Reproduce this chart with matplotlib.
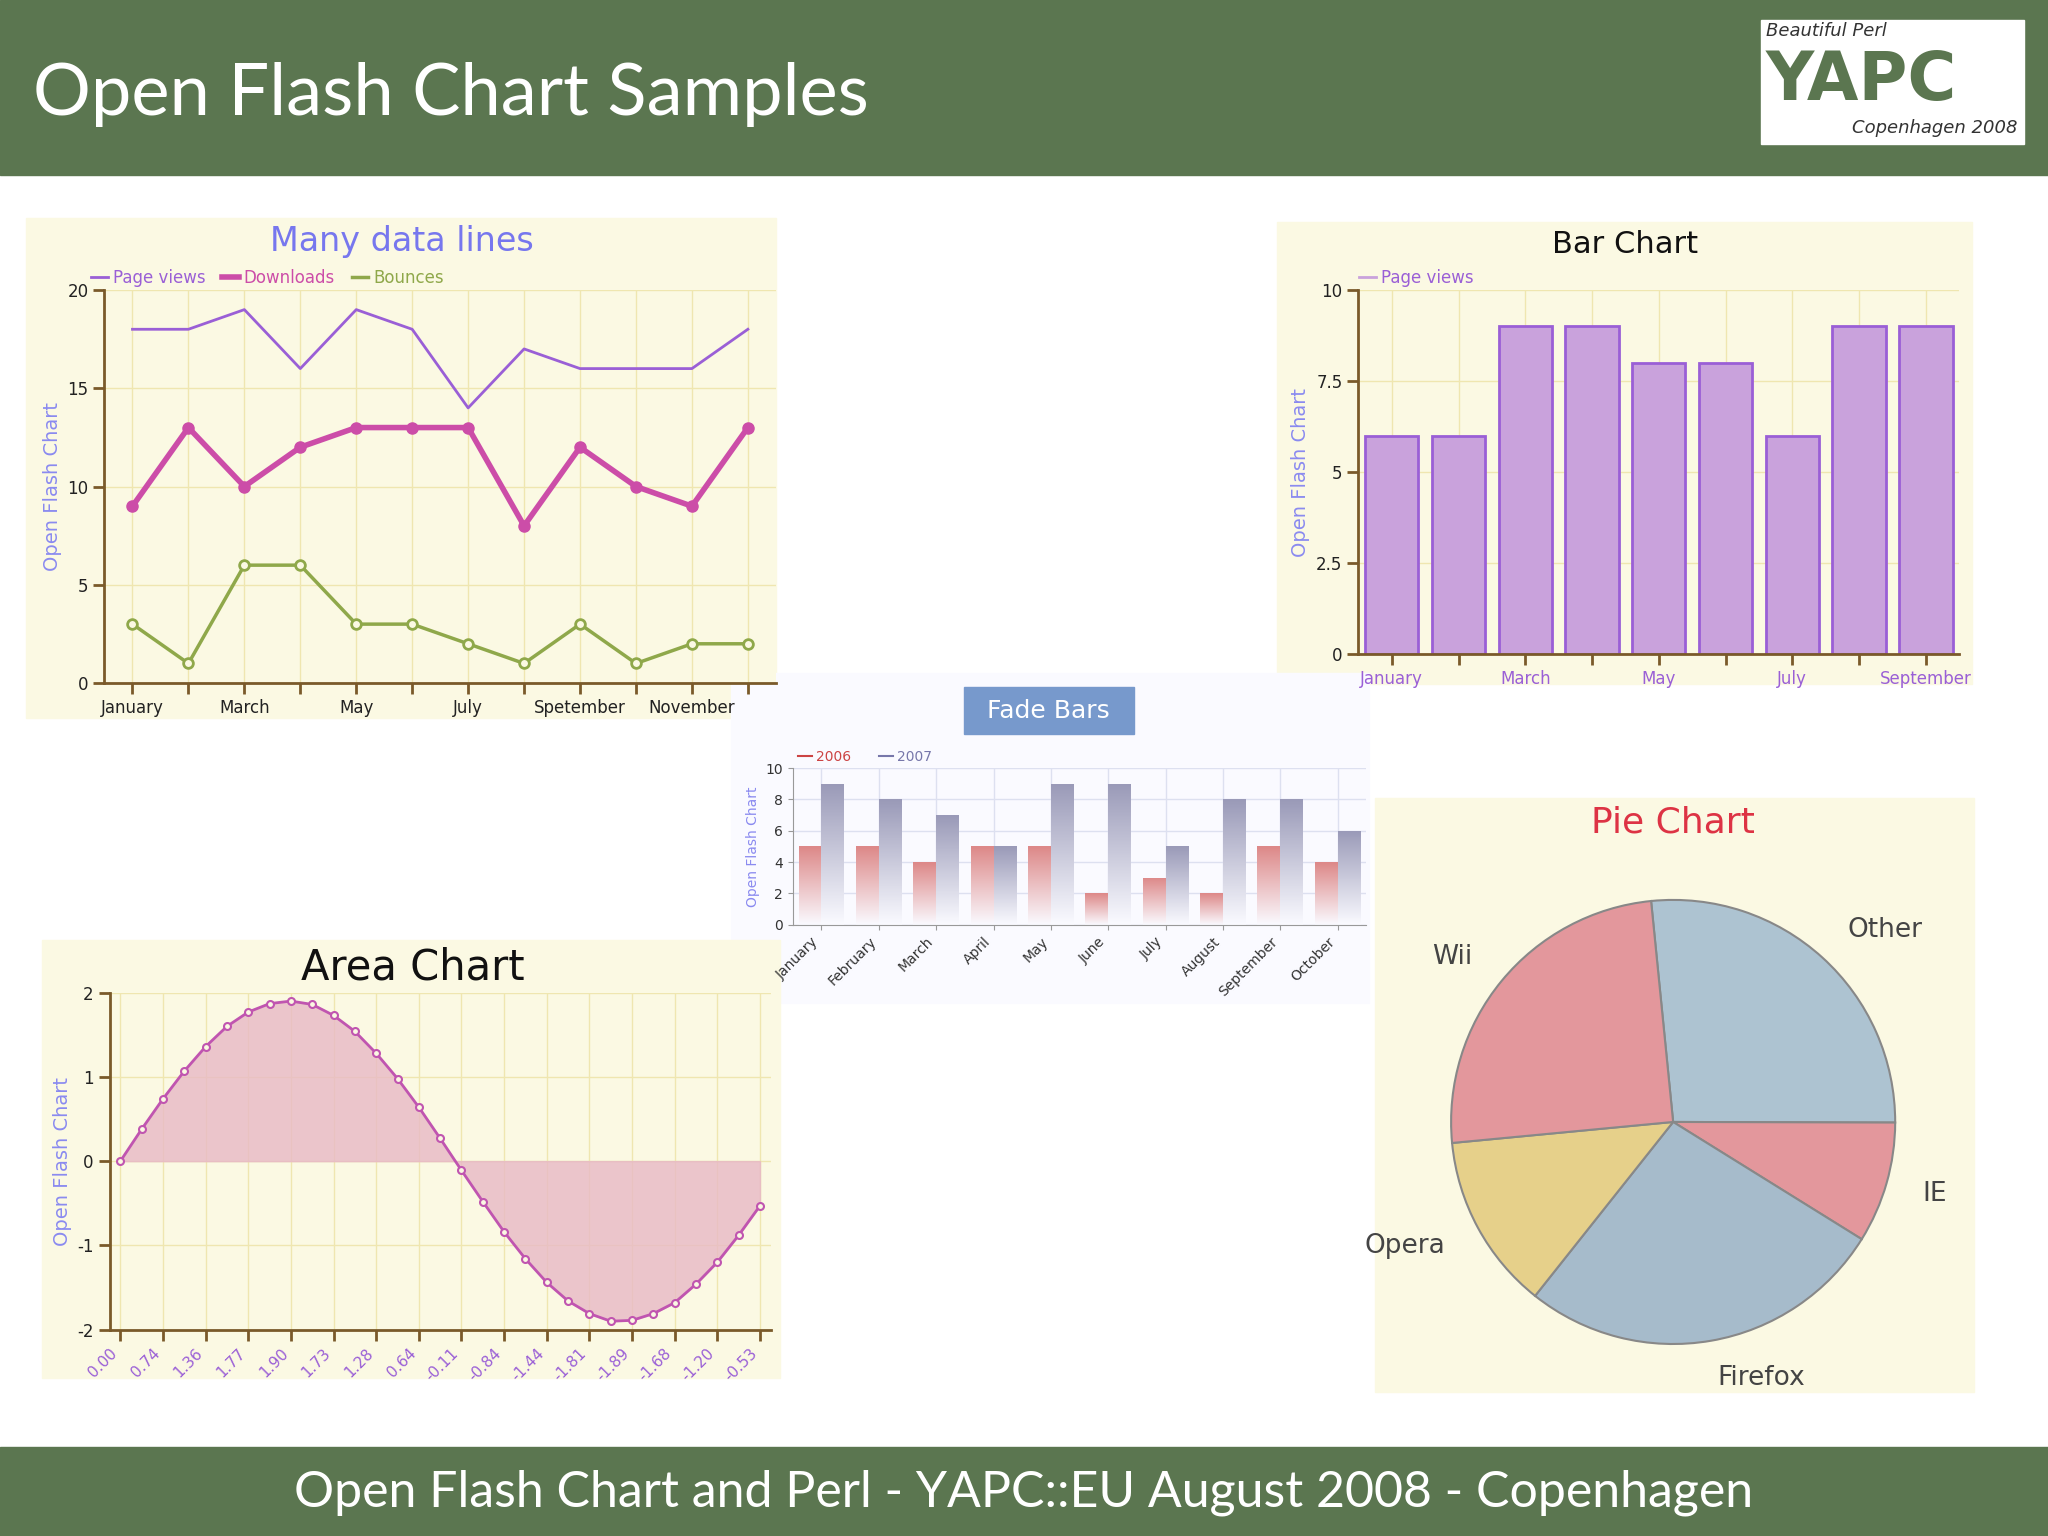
import numpy as np
import matplotlib.pyplot as plt
from matplotlib.patches import Rectangle
from matplotlib.colors import LinearSegmentedColormap

plt.rcParams['font.family'] = ['DejaVu Sans']
plt.rcParams['axes.unicode_minus'] = False

# === data ===
months = ['January', 'February', 'March', 'April', 'May', 'June', 'July',
          'August', 'September', 'October', 'November', 'December']
line_xlabels = ['January', '', 'March', '', 'May', '', 'July', '', 'Spetember', '', 'November', '']
page_views = [18, 18, 19, 16, 19, 18, 14, 17, 16, 16, 16, 18]
downloads = [9, 13, 10, 12, 13, 13, 13, 8, 12, 10, 9, 13]
bounces = [3, 1, 6, 6, 3, 3, 2, 1, 3, 1, 2, 2]

bar_values = [6, 6, 9, 9, 8, 8, 6, 9, 9]

fade_months = months[:10]
fade_2006 = [5, 5, 4, 5, 5, 2, 3, 2, 5, 4]
fade_2007 = [9, 8, 7, 5, 9, 9, 5, 8, 8, 6]

area_values = [0.00, 0.38, 0.74, 1.07, 1.36, 1.60, 1.77, 1.87, 1.90, 1.86, 1.73,
               1.54, 1.28, 0.98, 0.64, 0.27, -0.11, -0.48, -0.84, -1.16, -1.44,
               -1.66, -1.81, -1.90, -1.89, -1.81, -1.68, -1.46, -1.20, -0.88, -0.53]

pie_labels = ['Other', 'IE', 'Firefox', 'Opera', 'Wii']
pie_values = [26.6, 8.8, 26.8, 12.8, 24.9]
pie_colors = ['#adc3d1', '#e3979c', '#a6bbcb', '#e6d08a', '#e3979c']

W, H = 1568.0, 1176.0
fig = plt.figure(figsize=(20.48, 15.36), dpi=100)
GREEN = '#5b7650'
CREAM = '#fbf9e3'
SLIDE = ['Lato', 'DejaVu Sans']


def box(x0, y0, x1, y1):
    return [x0 / W, 1 - y1 / H, (x1 - x0) / W, (y1 - y0) / H]


def rect(x0, y0, x1, y1, color, z=-10, **kw):
    r = Rectangle((x0 / W, 1 - y1 / H), (x1 - x0) / W, (y1 - y0) / H,
                  transform=fig.transFigure, color=color, zorder=z, **kw)
    fig.add_artist(r)


def style_axes(ax, axcol='#7a5a2a'):
    ax.set_facecolor(CREAM)
    for s in ['top', 'right']:
        ax.spines[s].set_visible(False)
    ax.spines['left'].set_color(axcol)
    ax.spines['bottom'].set_color(axcol)
    ax.spines['left'].set_linewidth(2)
    ax.spines['bottom'].set_linewidth(2)
    ax.tick_params(colors=axcol, labelcolor='#222222', labelsize=12, width=2, length=8)
    ax.grid(color='#efe6b0', linewidth=1)
    ax.set_axisbelow(True)


# header / footer
rect(0, 0, W, 134, GREEN)
rect(0, 1108, W, H, GREEN)
fig.text(25 / W, 1 - 72 / H, 'Open Flash Chart Samples', color='white', fontsize=52, va='center',
         family=SLIDE)
fig.text(0.5, 1 - 1143 / H, 'Open Flash Chart and Perl - YAPC::EU August 2008 - Copenhagen',
         color='white', fontsize=36, ha='center', va='center', family=SLIDE)
rect(1348, 15, 1550, 110, 'white', z=1)
fig.text(1352 / W, 1 - 24 / H, 'Beautiful Perl', fontsize=13, style='italic', color='#333333',
         va='center', zorder=2)
fig.text(1352 / W, 1 - 62 / H, 'YAPC', fontsize=48, weight='bold', color=GREEN, va='center', zorder=2)
fig.text(1545 / W, 1 - 98 / H, 'Copenhagen 2008', fontsize=13, style='italic', color='#333333',
         va='center', ha='right', zorder=2)

# === Many data lines ===
rect(20, 167, 594, 550, CREAM)
ax = fig.add_axes(box(80, 222, 594, 523))
style_axes(ax)
x = np.arange(len(months))
ax.plot(x, page_views, color='#9a5fd6', lw=2, label='Page views')
ax.plot(x, downloads, color='#cc4da8', lw=4, marker='o', ms=8, label='Downloads')
ax.plot(x, bounces, color='#8fa84a', lw=2.5, marker='o', ms=7, mfc=CREAM, mew=2, label='Bounces')
ax.set_xlim(-0.5, 11.5)
ax.set_ylim(0, 20)
ax.set_yticks([0, 5, 10, 15, 20])
ax.set_xticks(x)
ax.set_xticklabels(line_xlabels)
ax.set_ylabel('Open Flash Chart', color='#8a8af0', fontsize=14)
fig.text(308 / W, 1 - 185 / H, 'Many data lines', color='#7777ee', fontsize=24, ha='center', va='center')
handles = [plt.Line2D([], [], color=c, lw=w) for c, w in
           [('#9a5fd6', 2), ('#cc4da8', 4), ('#8fa84a', 2.5)]]
leg = ax.legend(handles, ['Page views', 'Downloads', 'Bounces'], loc='lower left',
                bbox_to_anchor=(-0.03, 0.99), ncol=3, frameon=False, fontsize=12,
                handlelength=1, columnspacing=1, borderaxespad=0, handletextpad=0.3)
for t, c in zip(leg.get_texts(), ['#9a5fd6', '#cc4da8', '#8fa84a']):
    t.set_color(c)

# === Bar chart ===
rect(978, 170, 1510, 524, CREAM)
ax = fig.add_axes(box(1040, 222, 1500, 501))
style_axes(ax)
bx = np.arange(len(bar_values))
ax.bar(bx, bar_values, width=0.8, color='#c9a2dc', edgecolor='#9a5fd6', lw=2)
ax.set_xlim(-0.5, len(bar_values) - 0.5)
ax.set_ylim(0, 10)
ax.set_yticks([0, 2.5, 5, 7.5, 10])
ax.set_yticklabels(['0', '2.5', '5', '7.5', '10'])
ax.set_xticks(bx)
ax.set_xticklabels(['January', '', 'March', '', 'May', '', 'July', '', 'September'], color='#9a5fd6')
ax.set_ylabel('Open Flash Chart', color='#8a8af0', fontsize=14)
fig.text(1244 / W, 1 - 187 / H, 'Bar Chart', color='#111111', fontsize=22, ha='center', va='center')
leg = ax.legend([plt.Line2D([], [], color='#c9a2dc', lw=2)], ['Page views'], loc='lower left',
                bbox_to_anchor=(-0.01, 0.99), frameon=False, fontsize=12,
                handlelength=1, borderaxespad=0, handletextpad=0.3)
leg.get_texts()[0].set_color('#9a5fd6')

# === Fade bars ===
rect(560, 515, 1048, 768, '#fafaff')
ax = fig.add_axes(box(607, 588, 1046, 708))
ax.set_facecolor('#fafaff')
for s in ['top', 'right']:
    ax.spines[s].set_visible(False)
ax.spines['left'].set_color('#999999')
ax.spines['bottom'].set_color('#999999')
ax.tick_params(colors='#999999', labelcolor='#333333', labelsize=10)
ax.grid(color='#dde0f0', lw=1)
ax.set_axisbelow(True)
fx = np.arange(len(fade_months))
grad = np.linspace(0, 1, 100).reshape(-1, 1)
red_cm = LinearSegmentedColormap.from_list('r', ['#fafaff', '#dd8888'])
blue_cm = LinearSegmentedColormap.from_list('b', ['#fafaff', '#9a9ab8'])
for i in fx:
    for off, v, cm in [(-0.2, fade_2006[i], red_cm), (0.2, fade_2007[i], blue_cm)]:
        b = ax.bar(i + off, v, width=0.4, color='none')[0]
        im = ax.imshow(grad, cmap=cm, origin='lower', aspect='auto',
                       extent=[i + off - 0.2, i + off + 0.2, 0, v], zorder=2)
        im.set_clip_path(b)
ax.plot([], [], color='#cc4444', label='2006')
ax.plot([], [], color='#7777aa', label='2007')
ax.set_xlim(-0.5, len(fade_months) - 0.5)
ax.set_ylim(0, 10)
ax.set_yticks([0, 2, 4, 6, 8, 10])
ax.set_xticks(fx)
ax.set_xticklabels(fade_months, rotation=45, ha='right', fontsize=10)
ax.set_ylabel('Open Flash Chart', color='#8a8af0', fontsize=10)
leg = ax.legend(loc='lower left', bbox_to_anchor=(0.0, 0.99), ncol=2, frameon=False, fontsize=10,
                handlelength=1, borderaxespad=0, handletextpad=0.3)
for t, c in zip(leg.get_texts(), ['#cc4444', '#7777aa']):
    t.set_color(c)
rect(738, 526, 868, 562, '#7799cc', z=1)
fig.text(803 / W, 1 - 544 / H, 'Fade Bars', color='white', fontsize=18, ha='center', va='center', zorder=2)

# === Area chart ===
rect(32, 720, 597, 1055, CREAM)
ax = fig.add_axes(box(84, 760, 590, 1018))
style_axes(ax)
ax_x = np.arange(len(area_values))
ax.fill_between(ax_x, area_values, 0, color='#e8b9c6', alpha=0.8)
ax.plot(ax_x, area_values, color='#c055b0', lw=2, marker='o', ms=5, mfc=CREAM, mew=1.5)
ax.set_xlim(-0.5, len(area_values) - 0.5)
ax.set_ylim(-2, 2)
ax.set_yticks([-2, -1, 0, 1, 2])
ax.set_xticks(ax_x[::2])
ax.set_xticklabels(['%.2f' % v for v in area_values[::2]],
                   rotation=45, ha='right', color='#9a5fd6', fontsize=11)
ax.set_ylabel('Open Flash Chart', color='#8a8af0', fontsize=14)
fig.text(316 / W, 1 - 741 / H, 'Area Chart', color='#111111', fontsize=30, ha='center', va='center')

# === Pie chart ===
rect(1053, 611, 1511, 1066, CREAM)
r = 170
ax = fig.add_axes(box(1281 - 230, 859 - 230, 1281 + 230, 859 + 230))
ax.set_axis_off()
wedges, texts = ax.pie(pie_values, labels=pie_labels, colors=pie_colors, startangle=95.7,
                       counterclock=False, radius=r / 230.0, labeldistance=1.17,
                       wedgeprops=dict(edgecolor='#888888', lw=1.5),
                       textprops=dict(fontsize=19, color='#444444'))
ax.set_xlim(-1, 1)
ax.set_ylim(-1, 1)
fig.text(1281 / W, 1 - 630 / H, 'Pie Chart', color='#dd3344', fontsize=26, ha='center', va='center')

fig.savefig('out.png', dpi=100)
